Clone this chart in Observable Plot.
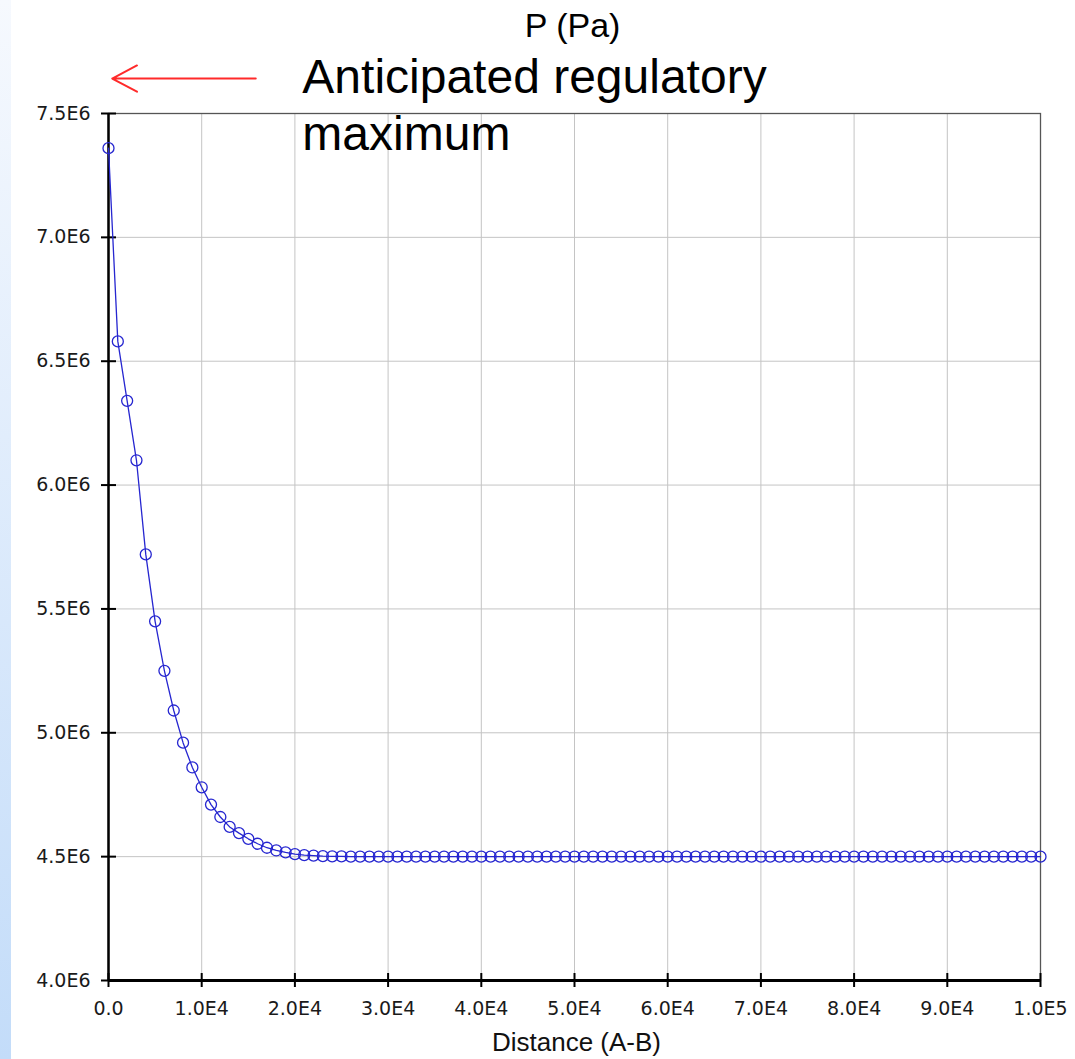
<!DOCTYPE html>
<html>
<head>
<meta charset="utf-8">
<script src="https://cdn.jsdelivr.net/npm/d3@7"></script>
<script src="https://cdn.jsdelivr.net/npm/@observablehq/plot@0.6"></script>
<style>
  html, body { margin: 0; padding: 0; background: #ffffff; }
  #wrap { position: relative; width: 1075px; height: 1059px; overflow: hidden; }
  #strip { position: absolute; left: 0; top: 0; width: 11px; height: 1059px;
           background: linear-gradient(to bottom, #f6f9fe, #c3dcf9); z-index: 2; }
  #chart { position: absolute; left: 0; top: 0; }
</style>
</head>
<body>
<div id="wrap"><div id="strip"></div><div id="chart"></div></div>
<script>
// Distance (A-B) values of the sampled points
const distance = [
  0, 1000, 2000, 3000, 4000, 5000, 6000, 7000, 8000, 9000,
  10000, 11000, 12000, 13000, 14000, 15000, 16000, 17000, 18000, 19000,
  20000, 21000, 22000, 23000, 24000, 25000, 26000, 27000, 28000, 29000,
  30000, 31000, 32000, 33000, 34000, 35000, 36000, 37000, 38000, 39000,
  40000, 41000, 42000, 43000, 44000, 45000, 46000, 47000, 48000, 49000,
  50000, 51000, 52000, 53000, 54000, 55000, 56000, 57000, 58000, 59000,
  60000, 61000, 62000, 63000, 64000, 65000, 66000, 67000, 68000, 69000,
  70000, 71000, 72000, 73000, 74000, 75000, 76000, 77000, 78000, 79000,
  80000, 81000, 82000, 83000, 84000, 85000, 86000, 87000, 88000, 89000,
  90000, 91000, 92000, 93000, 94000, 95000, 96000, 97000, 98000, 99000,
  100000
];
// P (Pa)
const pressure = [
  7360000, 6580000, 6340000, 6100000, 5720000, 5450000, 5250000, 5090000, 4960000, 4860000,
  4780000, 4710000, 4660000, 4620000, 4595000, 4572000, 4552000, 4536000, 4525000, 4517000,
  4510000, 4506000, 4504000, 4502000, 4501000, 4501000, 4500000, 4500000, 4500000, 4500000,
  4500000, 4500000, 4500000, 4500000, 4500000, 4500000, 4500000, 4500000, 4500000, 4500000,
  4500000, 4500000, 4500000, 4500000, 4500000, 4500000, 4500000, 4500000, 4500000, 4500000,
  4500000, 4500000, 4500000, 4500000, 4500000, 4500000, 4500000, 4500000, 4500000, 4500000,
  4500000, 4500000, 4500000, 4500000, 4500000, 4500000, 4500000, 4500000, 4500000, 4500000,
  4500000, 4500000, 4500000, 4500000, 4500000, 4500000, 4500000, 4500000, 4500000, 4500000,
  4500000, 4500000, 4500000, 4500000, 4500000, 4500000, 4500000, 4500000, 4500000, 4500000,
  4500000, 4500000, 4500000, 4500000, 4500000, 4500000, 4500000, 4500000, 4500000, 4500000,
  4500000
];

const xTicks = [0, 10000, 20000, 30000, 40000, 50000, 60000, 70000, 80000, 90000, 100000];
const xTickLabels = ["0.0", "1.0E4", "2.0E4", "3.0E4", "4.0E4", "5.0E4", "6.0E4", "7.0E4", "8.0E4", "9.0E4", "1.0E5"];
const yTicks = [4000000, 4500000, 5000000, 5500000, 6000000, 6500000, 7000000, 7500000];
const yTickLabels = ["4.0E6", "4.5E6", "5.0E6", "5.5E6", "6.0E6", "6.5E6", "7.0E6", "7.5E6"];

const yTitle = "P (Pa)";
const xTitle = "Distance (A-B)";
const annotationText = ["Anticipated regulatory\nmaximum"];
const annotationPos = [{x: 20800, y: 7746000}];
const arrowPos = [{x1: 15800, y1: 7641000, x2: 400, y2: 7641000}];

const data = distance.map((d, i) => ({distance: d, pressure: pressure[i]}));

const tickFont = "DejaVu Sans, Verdana, sans-serif";
const blue = "#2626d0";
const W = 1075, H = 1059, ML = 108, MR = 35, MT = 113, MB = 79;
const plotW = W - ML - MR, plotH = H - MT - MB;

const chart = Plot.plot({
  width: W,
  height: H,
  marginLeft: ML,
  marginRight: MR,
  marginTop: MT,
  marginBottom: MB,
  style: {background: "transparent", fontFamily: "Liberation Sans, Arial, sans-serif", color: "#111"},
  x: {domain: [0, 100000], label: null},
  y: {domain: [4000000, 7500000], label: null},
  marks: [
    Plot.gridX(xTicks, {stroke: "#c4c4c4", strokeOpacity: 1, strokeWidth: 1}),
    Plot.gridY(yTicks, {stroke: "#c4c4c4", strokeOpacity: 1, strokeWidth: 1}),
    Plot.frame({stroke: "#555", strokeWidth: 1.3}),
    Plot.ruleX([0], {stroke: "#000", strokeWidth: 2.5}),
    Plot.ruleY([4000000], {stroke: "#000", strokeWidth: 3}),
    // tick marks crossing the axes
    Plot.tickY(yTicks, {y: (d) => d, insetLeft: -7, insetRight: plotW - 8, stroke: "#000", strokeWidth: 2}),
    Plot.tickX(xTicks, {x: (d) => d, insetTop: plotH - 7, insetBottom: -7, stroke: "#000", strokeWidth: 2}),
    Plot.axisY(yTicks, {tickSize: 0, tickPadding: 18, fontSize: 19, fontFamily: tickFont, fill: "#1a1a1a",
      tickFormat: (d) => yTickLabels[yTicks.indexOf(d)]}),
    Plot.axisX(xTicks, {tickSize: 0, tickPadding: 21, fontSize: 19, fontFamily: tickFont, fill: "#1a1a1a",
      tickFormat: (d) => xTickLabels[xTicks.indexOf(d)]}),
    Plot.line(data, {x: "distance", y: "pressure", stroke: blue, strokeWidth: 1.3}),
    Plot.dot(data, {x: "distance", y: "pressure", r: 5.5, stroke: blue, strokeWidth: 1.3, fill: "none"}),
    Plot.text([yTitle], {frameAnchor: "top", dx: -2, dy: -87, fontSize: 34, lineAnchor: "middle", fill: "#000"}),
    Plot.text([xTitle], {frameAnchor: "bottom", dx: 2, dy: 62, fontSize: 26, lineAnchor: "middle", fill: "#111"}),
    Plot.arrow(arrowPos, {x1: "x1", y1: "y1", x2: "x2", y2: "y2", stroke: "#ff2a2a", strokeWidth: 2,
      headLength: 21, headAngle: 56, insetStart: 0, insetEnd: 0, clip: false}),
    Plot.text(annotationPos, {x: "x", y: "y", text: () => annotationText[0], textAnchor: "start", lineAnchor: "top",
      lineHeight: 1.19, fontSize: 48, fill: "#000", clip: false})
  ]
});
document.getElementById("chart").appendChild(chart);
</script>
</body>
</html>
